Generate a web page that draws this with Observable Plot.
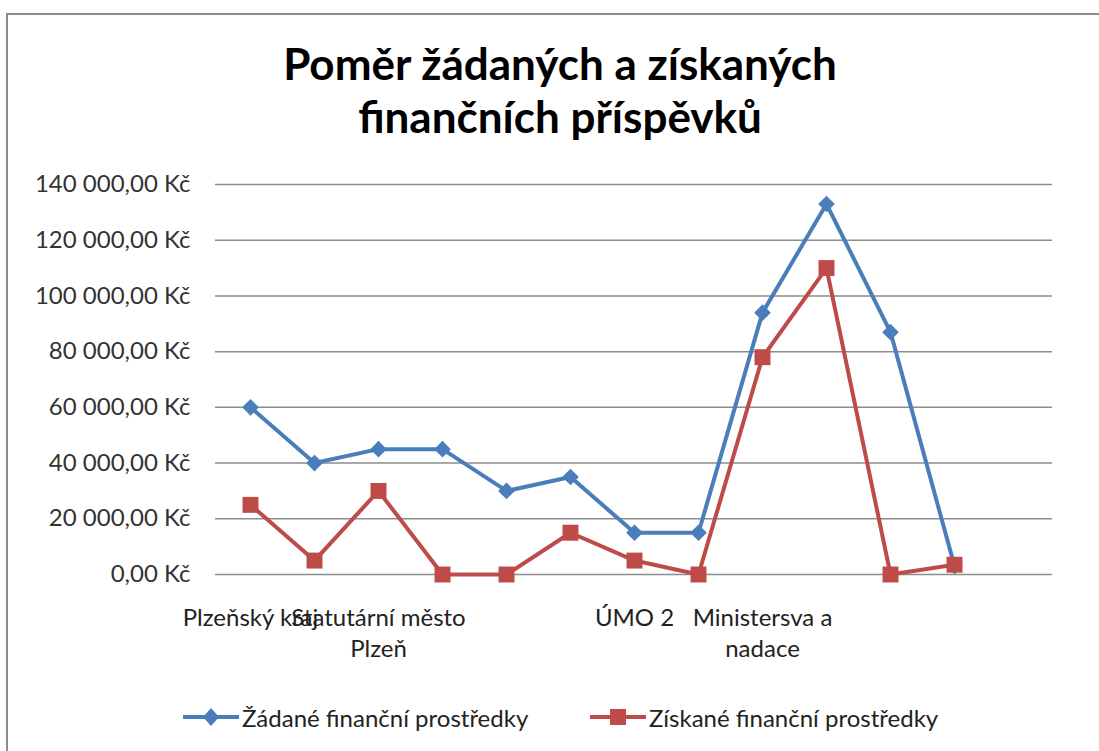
<!DOCTYPE html>
<html>
<head>
<meta charset="utf-8">
<script src="https://cdn.jsdelivr.net/npm/d3@7"></script>
<script src="https://cdn.jsdelivr.net/npm/@observablehq/plot@0.6"></script>
<style>
  html, body { margin: 0; padding: 0; background: #fff; }
  #wrap { position: relative; width: 1099px; height: 751px; overflow: hidden; background: #fff; font-family: Lato, "Open Sans", sans-serif; }
  #frame { position: absolute; left: 6px; top: 13px; width: 1200px; height: 800px; border: 2px solid #8c8c8c; box-sizing: border-box; }
  #title { position: absolute; left: 0; width: 1120px; top: 37px; text-align: center; font-weight: bold; font-size: 44px; line-height: 53px; color: #000; }
  #chart { position: absolute; left: 0; top: 0; }
  .leg { position: absolute; top: 700px; height: 34px; display: flex; align-items: center; font-size: 24px; color: #222; }
  .leg svg { margin-right: 3px; }
</style>
</head>
<body>
<div id="wrap">
  <div id="frame"></div>
  <div id="title">Poměr žádaných a získaných<br>finančních příspěvků</div>
  <div id="chart"></div>
  <div class="leg" id="leg1" style="left:183px"></div>
  <div class="leg" id="leg2" style="left:590px"></div>
</div>
<script>
// categories (13 slots on the category axis; only some carry labels)
const categoryIndex = [0, 1, 2, 3, 4, 5, 6, 7, 8, 9, 10, 11];
const axisSlots = [0, 1, 2, 3, 4, 5, 6, 7, 8, 9, 10, 11, 12];
const labelPositions = [0, 2, 6, 8];
const labelTexts = ["Plzeňský kraj", "Statutární město\nPlzeň", "ÚMO 2", "Ministersva a\nnadace"];
const seriesNames = ["Žádané finanční prostředky", "Získané finanční prostředky"];
const requested = [60000, 40000, 45000, 45000, 30000, 35000, 15000, 15000, 94000, 133000, 87000, 3000];
const obtained  = [25000, 5000, 30000, 0, 0, 15000, 5000, 0, 78000, 110000, 0, 3500];
const yTicks = [0, 20000, 40000, 60000, 80000, 100000, 120000, 140000];

const blue = "#4a7ebb";
const red = "#be4b48";

const data = [];
categoryIndex.forEach((i) => {
  data.push({i, v: requested[i], s: seriesNames[0]});
});
categoryIndex.forEach((i) => {
  data.push({i, v: obtained[i], s: seriesNames[1]});
});
const dReq = data.filter(d => d.s === seriesNames[0]);
const dObt = data.filter(d => d.s === seriesNames[1]);

const fmt = d => d3.format(",.2f")(d).replace(/,/g, " ").replace(".", ",") + " Kč";
const labelMap = new Map(labelPositions.map((p, k) => [p, labelTexts[k]]));

const plot = Plot.plot({
  width: 1099,
  height: 751,
  marginTop: 184,
  marginBottom: 177,
  marginLeft: 215,
  marginRight: 47,
  style: {background: "transparent", fontFamily: "Lato, 'Open Sans', sans-serif"},
  x: {type: "point", domain: axisSlots, padding: 0.5, axis: null},
  y: {domain: [0, 140000], axis: null},
  marks: [
    Plot.gridY(yTicks, {stroke: "#8c8c8c", strokeOpacity: 1, strokeWidth: 1.5}),
    Plot.axisY(yTicks, {tickSize: 0, tickPadding: 25, tickFormat: fmt, fontSize: 24, fill: "#333", label: null}),
    Plot.axisX(labelPositions, {tickSize: 0, tickPadding: 29, tickFormat: d => labelMap.get(d), fontSize: 24, fill: "#222", lineHeight: 1.3, label: null, textAnchor: "middle"}),
    Plot.line(dReq, {x: "i", y: "v", stroke: blue, strokeWidth: 4}),
    Plot.line(dObt, {x: "i", y: "v", stroke: red, strokeWidth: 4}),
    Plot.dot(dReq, {x: "i", y: "v", symbol: "diamond2", r: 7.5, fill: blue, stroke: "none"}),
    Plot.dot(dObt, {x: "i", y: "v", symbol: "square", r: 9, fill: red, stroke: "none"})
  ]
});
document.getElementById("chart").appendChild(plot);

function legendItem(el, color, symbol, text) {
  const svg = d3.create("svg").attr("width", 56).attr("height", 34);
  svg.append("line").attr("x1", 0).attr("x2", 56).attr("y1", 17).attr("y2", 17).attr("stroke", color).attr("stroke-width", 4);
  if (symbol === "diamond") {
    svg.append("path").attr("d", "M28,8L36,17L28,26L20,17Z").attr("fill", color);
  } else {
    svg.append("rect").attr("x", 20).attr("y", 9).attr("width", 16).attr("height", 16).attr("fill", color);
  }
  el.appendChild(svg.node());
  const span = document.createElement("span");
  span.textContent = text;
  el.appendChild(span);
}
legendItem(document.getElementById("leg1"), blue, "diamond", seriesNames[0]);
legendItem(document.getElementById("leg2"), red, "square", seriesNames[1]);
</script>
</body>
</html>
